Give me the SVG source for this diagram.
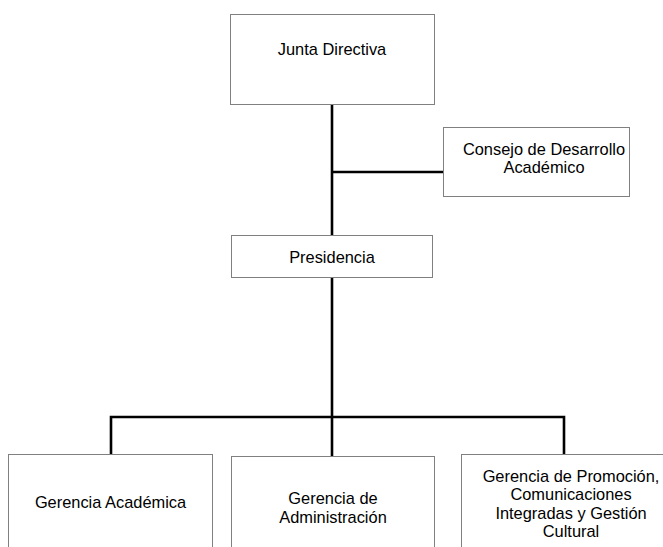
<svg xmlns="http://www.w3.org/2000/svg" width="663" height="547" viewBox="0 0 663 547">
<style>
.box{fill:#ffffff;stroke:#808080;stroke-width:1}
.t{font-family:"Liberation Sans",Arial,sans-serif;font-size:16.4px;fill:#000000;text-anchor:middle}
.c{fill:none;stroke:#000000;stroke-width:2.6;stroke-linecap:butt}
</style>
<rect width="663" height="547" fill="#ffffff"/>
<g id="connectors">
<path class="c" d="M332,104 V235"/>
<path class="c" d="M332,172 H443"/>
<path class="c" d="M332,277 V417"/>
<path class="c" d="M111,454 V417 H564 V454"/>
<path class="c" d="M332,417 V456"/>
</g>
<g id="junta">
<rect class="box" x="230.5" y="14.5" width="204" height="90"/>
<text class="t" x="332" y="55">Junta Directiva</text>
</g>
<g id="consejo">
<rect class="box" x="443.5" y="127.5" width="186" height="69"/>
<text class="t" x="544" y="154.5">Consejo de Desarrollo</text>
<text class="t" x="544" y="173">Académico</text>
</g>
<g id="presidencia">
<rect class="box" x="231.5" y="235.5" width="201" height="42"/>
<text class="t" x="332" y="263">Presidencia</text>
</g>
<g id="gerencia-academica">
<rect class="box" x="8.5" y="454.5" width="204" height="110"/>
<text class="t" x="110.5" y="508">Gerencia Académica</text>
</g>
<g id="gerencia-administracion">
<rect class="box" x="231.5" y="456.5" width="203" height="110"/>
<text class="t" x="333" y="503.5">Gerencia de</text>
<text class="t" x="333" y="522.5">Administración</text>
</g>
<g id="gerencia-promocion">
<rect class="box" x="461.5" y="454.5" width="220" height="110"/>
<text class="t" x="571" y="481.5">Gerencia de Promoción,</text>
<text class="t" x="571" y="500">Comunicaciones</text>
<text class="t" x="571" y="518.5">Integradas y Gestión</text>
<text class="t" x="571" y="537">Cultural</text>
</g>
</svg>
